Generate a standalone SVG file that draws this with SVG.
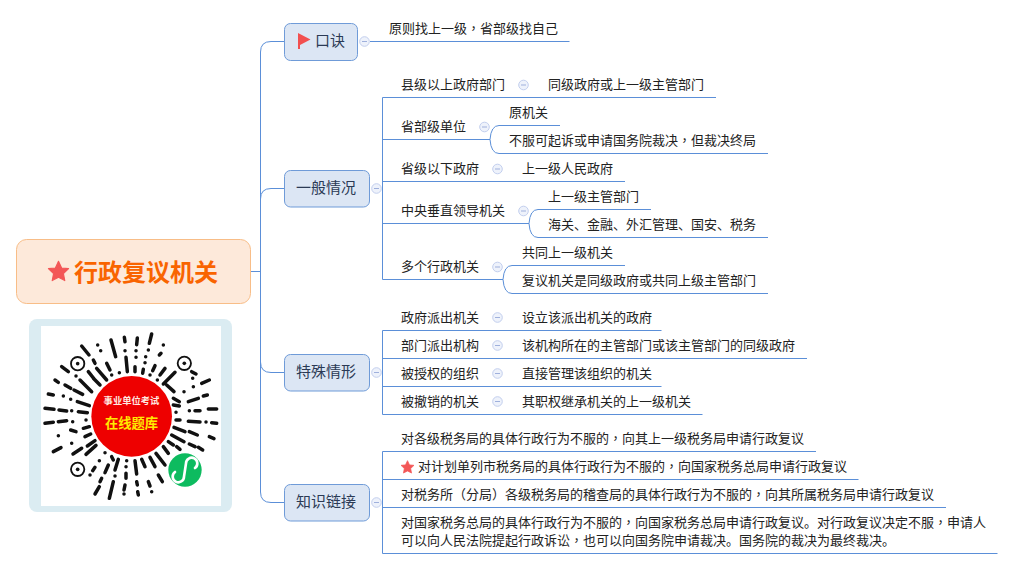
<svg xmlns="http://www.w3.org/2000/svg" width="1014" height="569" viewBox="0 0 1014 569">
<style>
text{font-family:"Noto Sans CJK SC","Microsoft YaHei",sans-serif;font-size:13px;fill:#222}
.p{font-family:"Noto Sans CJK TC",sans-serif}
.con{fill:none;stroke:#5b8fd8;stroke-width:1}
.box{fill:#dce6f4;stroke:#6f9bd8;stroke-width:1}
.lbl{font-size:15px;fill:#2b3a55}
.col{fill:#eef2fb;stroke:#c3cfee;stroke-width:1}
.min{stroke:#9fb0dc;stroke-width:1}
.star{fill:#f35757;stroke:#f35757;stroke-width:1;stroke-linejoin:round}
.dash{fill:none;stroke:#111;stroke-width:10.5;stroke-linecap:round}
</style>
<defs>
<polygon id="star" points="0,-9.5 2.8,-3.6 9,-3 4.4,1.4 5.6,7.7 0,4.8 -5.6,7.7 -4.4,1.4 -9,-3 -2.8,-3.6"/>
<g id="c"><circle class="col" r="4.8"/><path class="min" d="M-2.5 0H2.5"/></g>
</defs>
<rect width="1014" height="569" fill="#fff"/>
<g id="connectors">
<path class="con" d="M250 271.5H260.5"/>
<path class="con" d="M284 41.5H271Q260.5 41.5 260.5 52V362Q260.5 372.5 271 372.5H284"/>
<path class="con" d="M284 188.5H271Q260.5 188.5 260.5 199"/>
<path class="con" d="M260.5 492Q260.5 502.5 271 502.5H284"/>
<path class="con" d="M260.5 362V492"/>
<path class="con" d="M370 41.5H569.5"/>
<path class="con" d="M716 97.5H382.5V279.5H503"/>
<path class="con" d="M382.5 139.5H490M382.5 181.5H625M382.5 223.5H529"/>
<path class="con" d="M490 139.5Q491 125.5 499 125.5H560M490 139.5Q491 153.5 499 153.5H768"/>
<path class="con" d="M529 223.5Q530 209.5 538 209.5H651M529 223.5Q530 237.5 538 237.5H768"/>
<path class="con" d="M503 279.5Q504 265.5 512 265.5H625M503 279.5Q504 293.5 512 293.5H768"/>
<path class="con" d="M661.5 330.5H382.5V414.5H702.5M382.5 358.5H807M382.5 386.5H661.5"/>
<path class="con" d="M816 451.5H382.5V553.5H997.5M382.5 479.5H858.5M382.5 507.5H946"/>
</g>
<g id="root">
<rect x="16.5" y="239.5" width="234" height="64" rx="10" fill="#fde9da" stroke="#f8bd87"/>
<use href="#star" class="star" transform="translate(58.5 272) scale(1.12)"/>
<text x="74" y="281" style="font-size:24px;font-weight:700;fill:#f96400">行政复议机关</text>
</g>
<g id="qr">
<rect x="29" y="319" width="203" height="193" rx="8" fill="#dbecf2"/>
<rect x="41" y="326" width="180" height="180" fill="#fff"/>
<g transform="translate(41 326) scale(.33333)">
<path class="dash" d="M332 24L325 52M289 36L287 56M250 34L252 47M210 42L224 92M170 57h.1M179 74h.1M122 60L144 87M62 122L82 137M42 162L52 169M22 204L37 207M12 247L39 250M54 252L77 255M12 292L37 289M52 287L77 284M37 377L60 365M367 57h.1M360 82L355 87M322 72h.1M314 92h.1M285 74h.1M285 94h.1M252 74h.1M105 150h.1M282 122L282 137M312 110h.1M307 130L305 142M255 94L259 137M235 140h.1M212 147h.1M197 112L207 132M157 102L162 112M342 119L335 134M372 127L357 147M402 139L367 174M327 147h.1M349 162h.1M452 137L465 144M142 137L162 162M167 127L197 162M117 162L152 197M157 157L177 177M72 177L89 187M99 192L125 205M109 227L145 239M112 257L139 260M67 210h.1M89 220h.1M92 254h.1M95 287h.1M89 312L105 317M135 282h.1M127 307L145 302M132 332L149 324M92 352h.1M52 329h.1M96 384L122 367M135 385L165 358M139 360L162 344M482 172L505 162M455 157h.1M457 182h.1M429 197h.1M377 177L399 197M397 217L415 227M397 237L415 240M442 227L472 217M487 210L499 207M502 249L527 249M445 254h.1M462 254L477 254M405 259h.1M405 282L417 282M442 286L477 288M495 288h.1M512 290L527 292M399 304L432 317M445 317L469 327M505 332L519 338M392 327L429 347M382 347L397 357M445 354L462 362M472 364L485 372M407 362L417 370M367 362L382 382M345 382L372 417M327 394L342 422M302 400L312 422M282 404L287 444M257 404h.1M255 422h.1M255 442L255 457M252 477L249 492M249 504h.1M287 467L289 477M290 497L292 507M322 467L327 480M332 497h.1M352 447L364 467M212 392L217 402M232 400L222 432M202 417L192 440M222 450h.1M217 467L205 517M182 457L177 467M175 482L162 504M162 424L155 434M147 447h.1M175 404h.1M192 380h.1"/>
<g fill="none" stroke="#111" stroke-width="5.5"><circle cx="110" cy="113" r="20"/><circle cx="430" cy="112" r="20"/><circle cx="110" cy="430" r="20"/></g>
<g fill="#111"><circle cx="110" cy="113" r="5.5"/><circle cx="430" cy="112" r="5.5"/><circle cx="110" cy="430" r="5.5"/></g>
<circle cx="272" cy="271" r="121" fill="#ee0000"/>
<circle cx="432" cy="432" r="50" fill="#0dbb5f"/>
<path d="M402 438A17 17 0 1 0 429 452L435 412A17 17 0 1 1 462 426" fill="none" stroke="#fff" stroke-width="8" stroke-linecap="round"/>
</g>
<text x="131.5" y="404" text-anchor="middle" style="font-size:9.3px;font-weight:700;fill:#ffe9e0">事业单位考试</text>
<text x="131.5" y="428" text-anchor="middle" style="font-size:13.3px;font-weight:700;fill:#ffeb00">在线题库</text>
</g>
<g id="n-koujue">
<rect class="box" x="284.5" y="23.5" width="73" height="37" rx="6"/>
<path d="M298 33L310.5 39.5L300 45V49H298Z" fill="#f25050"/>
<text class="lbl" x="315" y="46">口诀</text>
<use href="#c" x="364.5" y="41.5"/>
</g>
<g id="n-koujue-1"><text x="389" y="33">原则找上一级<tspan class="p">，</tspan>省部级找自己</text></g>
<g id="n-yiban">
<rect class="box" x="284.5" y="170.5" width="85" height="36.5" rx="6"/>
<text class="lbl" x="296" y="193">一般情况</text>
<use href="#c" x="376.5" y="188.5"/>
</g>
<g id="n-yb1"><text x="401" y="89">县级以上政府部门</text><use href="#c" x="523.5" y="85"/></g>
<g id="n-yb1a"><text x="548" y="89">同级政府或上一级主管部门</text></g>
<g id="n-yb2"><text x="401" y="131">省部级单位</text><use href="#c" x="484.5" y="127"/></g>
<g id="n-yb2a"><text x="509" y="117">原机关</text></g>
<g id="n-yb2b"><text x="509" y="145">不服可起诉或申请国务院裁决<tspan class="p">，</tspan>但裁决终局</text></g>
<g id="n-yb3"><text x="401" y="173">省级以下政府</text><use href="#c" x="497.5" y="169"/></g>
<g id="n-yb3a"><text x="522" y="173">上一级人民政府</text></g>
<g id="n-yb4"><text x="401" y="215">中央垂直领导机关</text><use href="#c" x="523.5" y="211"/></g>
<g id="n-yb4a"><text x="548" y="201">上一级主管部门</text></g>
<g id="n-yb4b"><text x="548" y="229">海关、金融、外汇管理、国安、税务</text></g>
<g id="n-yb5"><text x="401" y="271">多个行政机关</text><use href="#c" x="497.5" y="267"/></g>
<g id="n-yb5a"><text x="522" y="257">共同上一级机关</text></g>
<g id="n-yb5b"><text x="522" y="285">复议机关是同级政府或共同上级主管部门</text></g>
<g id="n-teshu">
<rect class="box" x="284.5" y="354.5" width="85" height="36.5" rx="6"/>
<text class="lbl" x="296" y="377">特殊情形</text>
<use href="#c" x="376.5" y="372.5"/>
</g>
<g id="n-ts1"><text x="401" y="322">政府派出机关</text><use href="#c" x="497.5" y="317.5"/></g>
<g id="n-ts1a"><text x="522" y="322">设立该派出机关的政府</text></g>
<g id="n-ts2"><text x="401" y="350">部门派出机构</text><use href="#c" x="497.5" y="345.5"/></g>
<g id="n-ts2a"><text x="522" y="350">该机构所在的主管部门或该主管部门的同级政府</text></g>
<g id="n-ts3"><text x="401" y="378">被授权的组织</text><use href="#c" x="497.5" y="373.5"/></g>
<g id="n-ts3a"><text x="522" y="378">直接管理该组织的机关</text></g>
<g id="n-ts4"><text x="401" y="406">被撤销的机关</text><use href="#c" x="497.5" y="401.5"/></g>
<g id="n-ts4a"><text x="522" y="406">其职权继承机关的上一级机关</text></g>
<g id="n-zhishi">
<rect class="box" x="284.5" y="484.5" width="85" height="36.5" rx="6"/>
<text class="lbl" x="296" y="507">知识链接</text>
<use href="#c" x="376.5" y="502.5"/>
</g>
<g id="n-zs1"><text x="401" y="443">对各级税务局的具体行政行为不服的<tspan class="p">，</tspan>向其上一级税务局申请行政复议</text></g>
<g id="n-zs2"><use href="#star" class="star" transform="translate(407.5 467.5) scale(.72)"/><text x="418" y="471">对计划单列市税务局的具体行政行为不服的<tspan class="p">，</tspan>向国家税务总局申请行政复议</text></g>
<g id="n-zs3"><text x="401" y="499">对税务所（分局）各级税务局的稽查局的具体行政行为不服的<tspan class="p">，</tspan>向其所属税务局申请行政复议</text></g>
<g id="n-zs4"><text x="401" y="527">对国家税务总局的具体行政行为不服的<tspan class="p">，</tspan>向国家税务总局申请行政复议。对行政复议决定不服<tspan class="p">，</tspan>申请人</text><text x="401" y="545">可以向人民法院提起行政诉讼<tspan class="p">，</tspan>也可以向国务院申请裁决。国务院的裁决为最终裁决。</text></g>
</svg>
